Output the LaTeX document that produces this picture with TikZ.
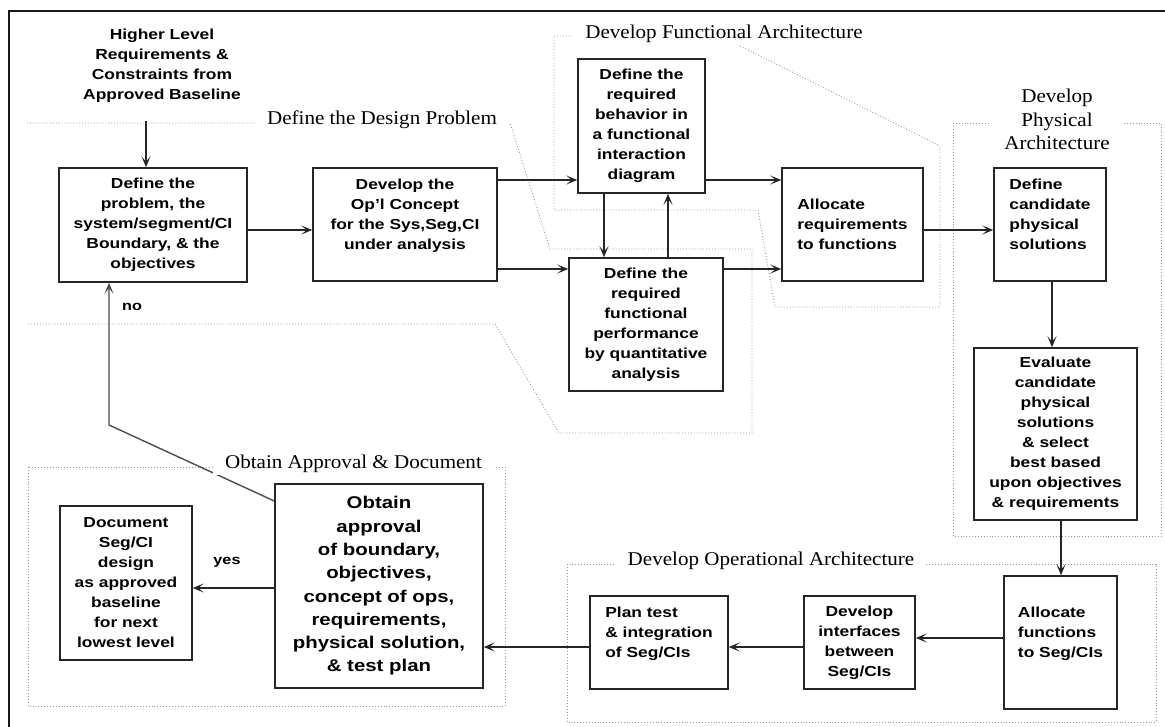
\documentclass[tikz,border=0pt]{standalone}
\usepackage{fontspec}
\newfontfamily\boxfont{Liberation Sans}[FakeStretch=1.2]
\newfontfamily\zonefont{Liberation Serif}[FakeStretch=1.08]
\usetikzlibrary{arrows.meta}

\begin{document}
\begin{tikzpicture}[x=1pt,y=-1pt,
  proc/.style={draw=black!85, fill=white, line width=1.5pt, inner sep=0pt, align=center,
               font=\boxfont\bfseries\fontsize{14.5}{20}\selectfont},
  bigproc/.style={proc, font=\boxfont\bfseries\fontsize{17}{23.3}\selectfont},
  flow/.style={draw=black!85, line width=1.4pt, -{Stealth[length=11pt,width=9pt,inset=5.5pt]}},
  zone/.style={draw=black!40, line width=0.9pt, dotted},
  zonelabel/.style={fill=white, inner xsep=12pt, inner ysep=2pt, align=center,
                    font=\zonefont\fontsize{19.5}{23.5}\selectfont},
  tag/.style={font=\boxfont\bfseries\fontsize{13.5}{16}\selectfont},
  plain/.style={align=center, font=\boxfont\bfseries\fontsize{14.5}{20}\selectfont}
]
\useasboundingbox (0,0) rectangle (1165,727);

% outer frame (open on the right and bottom)
\draw[line width=2pt, black!90] (9,727) -- (9,11) -- (1165,11);

% activity zones
\draw[zone] (27,123) -- (510,123) -- (550,249) -- (752,249) -- (752,433)
            -- (559,433) -- (495,324) -- (27,324);
\draw[zone] (554,36) -- (720,36) -- (940,146) -- (940,307) -- (775,307)
            -- (758,210) -- (554,210) -- cycle;
\draw[zone] (953,123) rectangle (1161,536);
\draw[zone] (567,564) rectangle (1156,722);
\draw[zone] (28,467) rectangle (505,706);

% process boxes
\node[plain] (hlr) at (162,66) {Higher Level\\Requirements \&\\Constraints from\\Approved Baseline};
\node[proc, minimum width=188pt, minimum height=114pt] (prob) at (153,225)
  {Define the\\problem, the\\system/segment/CI\\Boundary, \& the\\objectives};
\node[proc, minimum width=184pt, minimum height=113pt] (concept) at (405,224.5)
  {Develop the\\Op’l Concept\\for the Sys,Seg,CI\\under analysis\\\mbox{}};
\node[proc, minimum width=127pt, minimum height=134pt] (behav) at (641.5,126)
  {Define the\\required\\behavior in\\a functional\\interaction\\diagram};
\node[proc, minimum width=154pt, minimum height=133pt] (perf) at (646,324.5)
  {Define the\\required\\functional\\performance\\by quantitative\\analysis};
\node[proc, align=left, minimum width=141pt, minimum height=113pt] (alloc) at (852.5,224.5)
  {Allocate\\requirements\\to functions};
\node[proc, align=left, minimum width=112pt, minimum height=113pt] (cand) at (1050,224.5)
  {Define\\candidate\\physical\\solutions\\\mbox{}};
\node[proc, minimum width=163pt, minimum height=172pt] (eval) at (1055.5,434)
  {Evaluate\\candidate\\physical\\solutions\\\& select\\best based\\upon objectives\\\& requirements};
\node[proc, align=left, minimum width=113pt, minimum height=133pt] (allocf) at (1060.5,642.5)
  {Allocate\\functions\\to Seg/CIs\\\mbox{}};
\node[proc, minimum width=111pt, minimum height=93pt] (iface) at (859.5,642.5)
  {Develop\\interfaces\\between\\Seg/CIs};
\node[proc, align=left, minimum width=138pt, minimum height=93pt] (plan) at (659,642.5)
  {Plan test\\\& integration\\of Seg/CIs\\\mbox{}};
\node[bigproc, minimum width=208pt, minimum height=204pt] (approve) at (379,586)
  {Obtain\\approval\\of boundary,\\objectives,\\concept of ops,\\requirements,\\physical solution,\\\& test plan};
\node[proc, minimum width=132pt, minimum height=154pt] (doc) at (126,583)
  {Document\\Seg/CI\\design\\as approved\\baseline\\for next\\lowest level};

% flow between activities
\coordinate (src) at (146,121);
\draw[flow] (src) -- (src |- prob.north);
\draw[flow] (prob.east |- 0,230) -- (concept.west |- 0,230);
\draw[flow] (concept.east |- 0,180) -- (behav.west |- 0,180);
\draw[flow] (concept.east |- 0,269) -- (perf.west |- 0,269);
\draw[flow] (behav.south -| 604,0) -- (perf.north -| 604,0);
\draw[flow] (perf.north -| 668,0) -- (behav.south -| 668,0);
\draw[flow] (behav.east |- 0,180) -- (alloc.west |- 0,180);
\draw[flow] (perf.east |- 0,269) -- (alloc.west |- 0,269);
\draw[flow] (alloc.east |- 0,230) -- (cand.west |- 0,230);
\draw[flow] (cand.south -| 1052,0) -- (eval.north -| 1052,0);
\draw[flow] (eval.south -| 1061,0) -- (allocf.north -| 1061,0);
\draw[flow] (allocf.west |- 0,638) -- (iface.east |- 0,638);
\draw[flow] (iface.west |- 0,647) -- (plan.east |- 0,647);
\draw[flow] (plan.west |- 0,647) -- (approve.east |- 0,647);
\draw[flow] (approve.west |- 0,588) -- (doc.east |- 0,588);
\draw[flow, draw=black!70] (approve.west |- 0,501) -- (109,425) -- (prob.south -| 109,0);
\node[tag] (yes) at (227,562) {yes};
\node[tag] (no) at (132,307) {no};

% zone titles
\node[zonelabel, inner xsep=13pt] (zdp) at (382,120) {Define the Design Problem};
\node[zonelabel, inner xsep=13pt] (zfa) at (724,34) {Develop Functional Architecture};
\node[zonelabel, inner xsep=14pt] (zpa) at (1057,119.5) {Develop\\Physical\\Architecture};
\node[zonelabel] (zoa) at (771,561) {Develop Operational Architecture};
\node[zonelabel] (zad) at (353.5,464) {Obtain Approval \& Document};
\end{tikzpicture}
\end{document}
